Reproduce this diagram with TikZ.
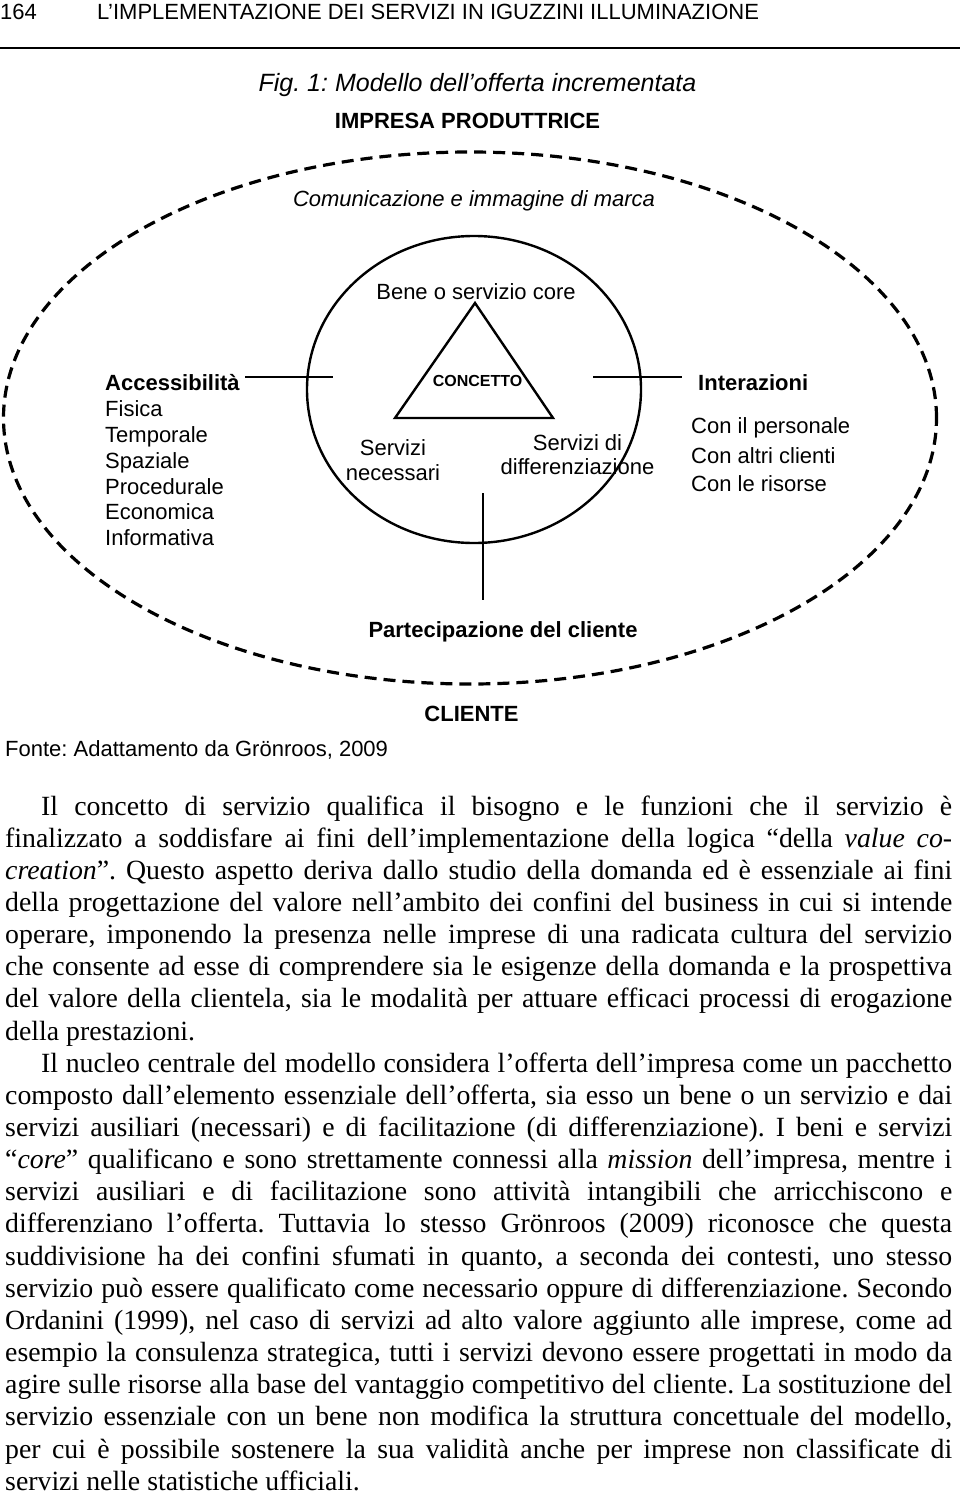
\documentclass[tikz,border=0pt]{standalone}
\usepackage{fontspec}
\setmainfont{Liberation Serif}
\newfontfamily\arialf{Liberation Sans}
\newcommand\jl[2]{\makebox[#1][s]{#2}}
\frenchspacing
\begin{document}
\frenchspacing
\begin{tikzpicture}[x=1pt,y=-1pt,
  sans/.style={font=\arialf\fontsize{22}{25.5}\selectfont, inner sep=0pt},
  sansb/.style={font=\arialf\bfseries\fontsize{22}{25.5}\selectfont, inner sep=0pt},
  body/.style={font=\fontsize{27.8}{32.15}\selectfont\frenchspacing, inner sep=0pt, anchor=base west},
  dashring/.style={line width=3.2pt, dash pattern=on 12pt off 7pt},
  ring/.style={line width=2.4pt},
  conn/.style={line width=2pt}]
\useasboundingbox (0,0) rectangle (960,1496);
\fill[white] (0,0) rectangle (960,1496);

% header
\node[sans, anchor=base west] (page) at (0,20) {164};
\node[sans, anchor=base west] (head) at (97,20) {L’IMPLEMENTAZIONE DEI SERVIZI IN IGUZZINI ILLUMINAZIONE};
\coordinate (ruleL) at (0,48);
\coordinate (ruleR) at (960,48);
\draw[line width=2pt] (ruleL) -- (ruleR);

% figure titles
\node[font=\arialf\itshape\fontsize{25}{28}\selectfont\frenchspacing, inner sep=0pt, anchor=base] (fig) at (477.5,91) {Fig. 1: Modello dell’offerta incrementata};
\node[sansb, anchor=base] (impresa) at (467.5,128) {IMPRESA PRODUTTRICE};

% outer dashed ellipse
\draw[dashring] (470,418) ellipse [x radius=466.5pt, y radius=266pt];
\node[font=\arialf\itshape\fontsize{22}{25.5}\selectfont, inner sep=0pt, anchor=base] (comm) at (474,206) {Comunicazione e immagine di marca};

% inner circle and triangle
\draw[ring] (474,389.5) ellipse [x radius=167pt, y radius=153.5pt];
\coordinate (apex) at (475,303);
\coordinate (baseL) at (395,418);
\coordinate (baseR) at (553,418);
\draw[ring, line join=miter] (apex) -- (baseL) -- (baseR) -- cycle;

\node[sans, anchor=base] (bene) at (476,299) {Bene o servizio core};
\node[font=\arialf\bfseries\fontsize{16}{18}\selectfont, inner sep=0pt, anchor=base] (concetto) at (477.5,386) {CONCETTO};
\node[sans, anchor=base] (nec1) at (393,455) {Servizi};
\node[sans, anchor=base] (nec2) at (393,480) {necessari};
\node[sans, anchor=base] (dif1) at (577.5,450) {Servizi di};
\node[sans, anchor=base] (dif2) at (577.5,474) {differenziazione};

% left block
\node[sansb, anchor=base west] (acc) at (105,390) {Accessibilità};
\node[sans, anchor=base west] (acc1) at (105,416) {Fisica};
\node[sans, anchor=base west] (acc2) at (105,442) {Temporale};
\node[sans, anchor=base west] (acc3) at (105,468) {Spaziale};
\node[sans, anchor=base west] (acc4) at (105,494) {Procedurale};
\node[sans, anchor=base west] (acc5) at (105,519) {Economica};
\node[sans, anchor=base west] (acc6) at (105,545) {Informativa};

% right block
\node[sansb, anchor=base west] (inter) at (698,390) {Interazioni};
\node[sans, anchor=base west] (int1) at (691,433) {Con il personale};
\node[sans, anchor=base west] (int2) at (691,463) {Con altri clienti};
\node[sans, anchor=base west] (int3) at (691,491) {Con le risorse};

% connectors
\coordinate (lA) at (245,377);
\coordinate (lB) at (333,377);
\coordinate (rA) at (593,377);
\coordinate (rB) at (682,377);
\coordinate (vA) at (483,493);
\coordinate (vB) at (483,600);
\draw[conn] (lA) -- (lB);
\draw[conn] (rA) -- (rB);
\draw[conn] (vA) -- (vB);

\node[sansb, anchor=base] (part) at (503,637) {Partecipazione del cliente};
\node[sansb, anchor=base] (cliente) at (471.5,721) {CLIENTE};
\node[font=\arialf\fontsize{22}{25.5}\selectfont\frenchspacing, inner sep=0pt, anchor=base west] (fonte) at (5,756) {Fonte: Adattamento da Grönroos, 2009};

% body text
\node[body] (b1) at (41,815) {\jl{911pt}{Il concetto di servizio qualifica il bisogno e le funzioni che il servizio è}};
\node[body] (b2) at (5,847.15) {\jl{947pt}{finalizzato a soddisfare ai fini dell’implementazione della logica “della \textit{value co-}}};
\node[body] (b3) at (5,879.3) {\jl{947pt}{\textit{creation}”. Questo aspetto deriva dallo studio della domanda ed è essenziale ai fini}};
\node[body] (b4) at (5,911.45) {\jl{947pt}{della progettazione del valore nell’ambito dei confini del business in cui si intende}};
\node[body] (b5) at (5,943.6) {\jl{947pt}{operare, imponendo la presenza nelle imprese di una radicata cultura del servizio}};
\node[body] (b6) at (5,975.75) {\jl{947pt}{che consente ad esse di comprendere sia le esigenze della domanda e la prospettiva}};
\node[body] (b7) at (5,1007.9) {\jl{947pt}{del valore della clientela, sia le modalità per attuare efficaci processi di erogazione}};
\node[body] (b8) at (5,1040.05) {della prestazioni.};
\node[body] (b9) at (41,1072.2) {\jl{911pt}{Il nucleo centrale del modello considera l’offerta dell’impresa come un pacchetto}};
\node[body] (b10) at (5,1104.35) {\jl{947pt}{composto dall’elemento essenziale dell’offerta, sia esso un bene o un servizio e dai}};
\node[body] (b11) at (5,1136.5) {\jl{947pt}{servizi ausiliari (necessari) e di facilitazione (di differenziazione). I beni e servizi}};
\node[body] (b12) at (5,1168.65) {\jl{947pt}{“\textit{core}” qualificano e sono strettamente connessi alla \textit{mission} dell’impresa, mentre i}};
\node[body] (b13) at (5,1200.8) {\jl{947pt}{servizi ausiliari e di facilitazione sono attività intangibili che arricchiscono e}};
\node[body] (b14) at (5,1232.95) {\jl{947pt}{differenziano l’offerta. Tuttavia lo stesso Grönroos (2009) riconosce che questa}};
\node[body] (b15) at (5,1265.1) {\jl{947pt}{suddivisione ha dei confini sfumati in quanto, a seconda dei contesti, uno stesso}};
\node[body] (b16) at (5,1297.25) {\jl{947pt}{servizio può essere qualificato come necessario oppure di differenziazione. Secondo}};
\node[body] (b17) at (5,1329.4) {\jl{947pt}{Ordanini (1999), nel caso di servizi ad alto valore aggiunto alle imprese, come ad}};
\node[body] (b18) at (5,1361.55) {\jl{947pt}{esempio la consulenza strategica, tutti i servizi devono essere progettati in modo da}};
\node[body] (b19) at (5,1393.7) {\jl{947pt}{agire sulle risorse alla base del vantaggio competitivo del cliente. La sostituzione del}};
\node[body] (b20) at (5,1425.85) {\jl{947pt}{servizio essenziale con un bene non modifica la struttura concettuale del modello,}};
\node[body] (b21) at (5,1458) {\jl{947pt}{per cui è possibile sostenere la sua validità anche per imprese non classificate di}};
\node[body] (b22) at (5,1490.15) {servizi nelle statistiche ufficiali.};
\end{tikzpicture}
\end{document}
